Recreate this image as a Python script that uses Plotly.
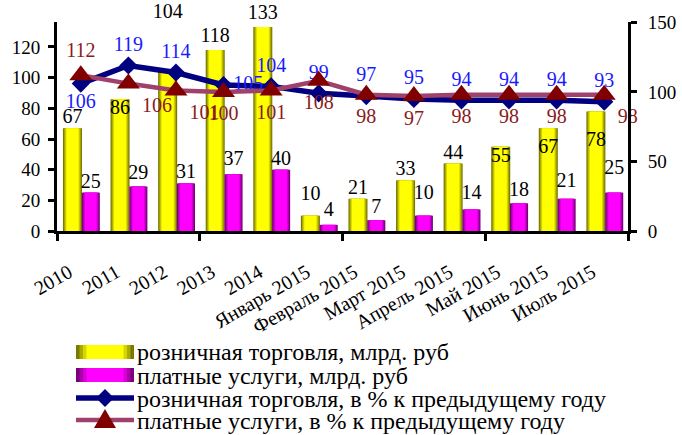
import plotly.graph_objects as go

# ---------------- data ----------------
categories = ["2010", "2011", "2012", "2013", "2014", "Январь 2015", "Февраль 2015",
              "Март 2015", "Апрель 2015", "Май 2015", "Июнь 2015", "Июль 2015"]
retail = [67, 86, 104, 118, 133, 10, 21, 33, 44, 55, 67, 78]
services = [25, 29, 31, 37, 40, 4, 7, 10, 14, 18, 21, 25]
retail_pct = [106, 119, 114, 105, 104, 99, 97, 95, 94, 94, 94, 93]
services_pct = [112, 106, 101, 100, 101, 108, 98, 97, 98, 98, 98, 98]
left_ticks = [0, 20, 40, 60, 80, 100, 120]
right_ticks = [0, 50, 100, 150]
legend_names = ["розничная торговля, млрд. руб",
                "платные услуги, млрд. руб",
                "розничная торговля, в % к предыдущему году",
                "платные услуги, в % к предыдущему году"]

# ---------------- style ----------------
FONT = "Liberation Serif"
W, H = 682, 435
L, R, T, B = 57, 54, 22, 204
PW, PH = W - L - R, H - T - B

idx = list(range(len(categories)))
Y_C, Y_W = -0.175, 0.40
M_C, M_W = 0.21, 0.38
layers = [1.0, 0.88, 0.76, 0.64]
yellow_cols = ["#7a7a00", "#a9a900", "#d6d600", "#ffff00"]
magenta_cols = ["#7a007a", "#a900a9", "#d600d6", "#ff00ff"]
NAVY = "#000080"
PLUM = "#a0406c"
DRED = "#800000"
BLUE_TXT = "#1a1aff"
RED_TXT = "#8b1a1a"

# label placement (style only: text position and invisible spacer size)
yel_pos = ["top center", "bottom center"] + ["top center"] * 7 + ["bottom center"] * 3
yel_gap = [0, 0, 76, 4, 4, 15, 0, 0, 0, 0, 14, 30]
mag_gap = [0, 2, 0, 6, 0, 5, 2, 17, 7, 2, 9, 20]
blue_pos = ["bottom center", "top center", "top center", "middle right"] + ["top center"] * 8
red_pos = ["top center", "bottom right", "bottom right"] + ["bottom center"] * 8 + ["bottom right"]

fig = go.Figure()

def add_bars(vals, center, width, cols):
    for w, c in zip(layers, cols):
        fig.add_trace(go.Bar(
            x=idx, y=vals, width=[width * w] * len(idx),
            offset=[center - width * w / 2] * len(idx),
            marker=dict(color=c, line=dict(width=0)),
            showlegend=False, hoverinfo="skip"))

add_bars(retail, Y_C, Y_W, yellow_cols)
add_bars(services, M_C, M_W, magenta_cols)

fig.add_trace(go.Scatter(
    x=[i + Y_C for i in idx], y=retail, mode="markers+text",
    text=[str(v) for v in retail], textposition=yel_pos,
    marker=dict(size=yel_gap, opacity=0), textfont=dict(family=FONT, size=20, color="black"),
    showlegend=False, hoverinfo="skip", cliponaxis=False))
fig.add_trace(go.Scatter(
    x=[i + M_C for i in idx], y=services, mode="markers+text",
    text=[str(v) for v in services], textposition="top center",
    marker=dict(size=mag_gap, opacity=0), textfont=dict(family=FONT, size=20, color="black"),
    showlegend=False, hoverinfo="skip", cliponaxis=False))

fig.add_trace(go.Scatter(
    x=idx, y=retail_pct, yaxis="y2", mode="lines+markers+text",
    line=dict(color=NAVY, width=5.5),
    marker=dict(symbol="diamond", size=14, color=NAVY),
    text=[str(v) for v in retail_pct], textposition=blue_pos,
    textfont=dict(family=FONT, size=20, color=BLUE_TXT),
    showlegend=False, cliponaxis=False))
fig.add_trace(go.Scatter(
    x=idx, y=services_pct, yaxis="y2", mode="lines+markers+text",
    line=dict(color=PLUM, width=4.5),
    marker=dict(symbol="triangle-up", size=20, color=DRED),
    text=[str(v) for v in services_pct], textposition=red_pos,
    textfont=dict(family=FONT, size=20, color=RED_TXT),
    showlegend=False, cliponaxis=False))

# ---------------- manual legend ----------------
def px(x):
    return (x - L) / PW

def py(y):
    return (H - B - y) / PH

shapes = []
annotations = []
rows = [352, 375, 398, 420]
text_rows = [352, 376, 399, 421]
sx0, sx1 = 76, 134
for r, cols in zip(rows[:2], [yellow_cols, magenta_cols]):
    for w, c in zip(layers, cols):
        half = (sx1 - sx0) * w / 2
        mid = (sx0 + sx1) / 2
        shapes.append(dict(type="rect", xref="paper", yref="paper",
                           x0=px(mid - half), x1=px(mid + half),
                           y0=py(r - 7), y1=py(r + 7),
                           fillcolor=c, line=dict(width=0), layer="above"))
shapes.append(dict(type="line", xref="paper", yref="paper",
                   x0=px(sx0), x1=px(sx1), y0=py(rows[2]), y1=py(rows[2]),
                   line=dict(color=NAVY, width=5.5)))
shapes.append(dict(type="line", xref="paper", yref="paper",
                   x0=px(sx0), x1=px(sx1), y0=py(rows[3]), y1=py(rows[3]),
                   line=dict(color=PLUM, width=4.5)))
mx = (sx0 + sx1) / 2
r = rows[2]
shapes.append(dict(type="path", xref="paper", yref="paper",
                   path=f"M {px(mx)},{py(r-9)} L {px(mx+9)},{py(r)} L {px(mx)},{py(r+9)} L {px(mx-9)},{py(r)} Z",
                   fillcolor=NAVY, line=dict(width=0)))
r = rows[3]
shapes.append(dict(type="path", xref="paper", yref="paper",
                   path=f"M {px(mx-11)},{py(r+8)} L {px(mx+11)},{py(r+8)} L {px(mx)},{py(r-11)} Z",
                   fillcolor=DRED, line=dict(width=0)))
for r, name in zip(text_rows, legend_names):
    annotations.append(dict(xref="paper", yref="paper", x=px(135), y=py(r),
                            xanchor="left", yanchor="middle", text=name, showarrow=False,
                            font=dict(family=FONT, size=24, color="black")))

fig.update_layout(
    width=W, height=H, margin=dict(l=L, r=R, t=T, b=B, autoexpand=False),
    paper_bgcolor="white", plot_bgcolor="white",
    barmode="overlay", showlegend=False,
    font=dict(family=FONT, size=19, color="black"),
    shapes=shapes, annotations=annotations,
    xaxis=dict(range=[-0.5, 11.5], tickmode="array", tickvals=idx, ticktext=categories,
               ticks="", tickangle=-30, ticklabelstandoff=19, ticklabelshift=-12,
               tickfont=dict(family=FONT, size=20),
               showline=True, linecolor="black", linewidth=3, showgrid=False, zeroline=False,
               minor=dict(tickmode="array", tickvals=[-0.5, 2.5, 5.5, 8.5, 11.5],
                          ticks="outside", ticklen=7, tickwidth=3, tickcolor="black")),
    yaxis=dict(range=[0, 136.3], tickmode="array", tickvals=left_ticks,
               ticks="outside", ticklen=6, tickwidth=3, tickcolor="black",
               ticklabelstandoff=4,
               showline=True, linecolor="black", linewidth=3, showgrid=False, zeroline=False,
               tickfont=dict(family=FONT, size=19)),
    yaxis2=dict(range=[0, 150.3], tickmode="array", tickvals=right_ticks, overlaying="y",
                side="right", ticks="outside", ticklen=6, tickwidth=3, tickcolor="black",
                ticklabelstandoff=7,
                showline=True, linecolor="black", linewidth=3, showgrid=False, zeroline=False,
                tickfont=dict(family=FONT, size=19)),
)

fig.write_html("out.html", config={"displayModeBar": False},
               post_script="document.body.style.margin='0';document.body.style.overflow='hidden';")
